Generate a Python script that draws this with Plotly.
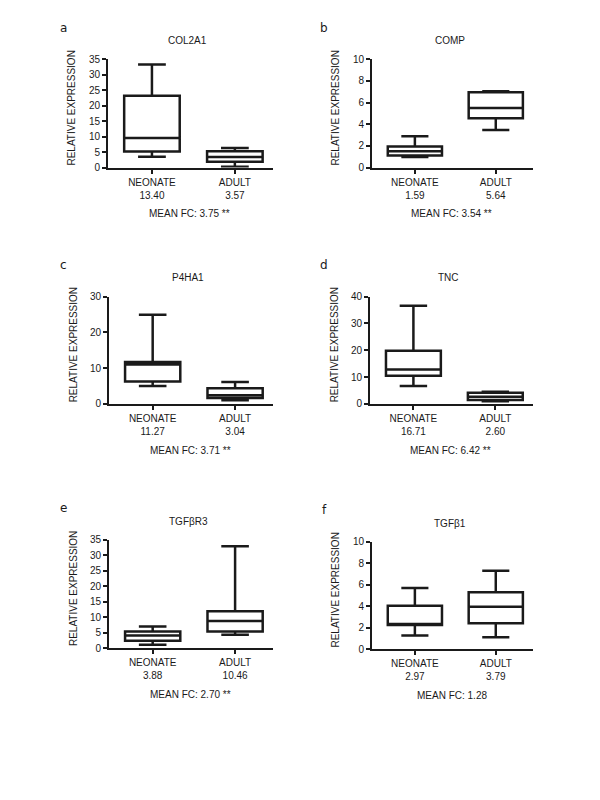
import plotly.graph_objects as go

genes = ["COL2A1", "COMP", "P4HA1", "TNC", "TGFβR3", "TGFβ1"]
letters = ["a", "b", "c", "d", "e", "f"]
categories = ["NEONATE", "ADULT"]

# [neonate, adult] box statistics
lower = [[3.5, 0.3], [0.97, 3.47], [5.0, 1.0], [6.7, 1.0], [1.1, 4.3], [1.28, 1.1]]
q1 = [[5.2, 1.9], [1.12, 4.56], [6.3, 1.65], [10.5, 1.5], [2.4, 5.4], [2.25, 2.4]]
median = [[9.6, 3.4], [1.5, 5.5], [11.0, 2.4], [12.8, 2.7], [4.1, 8.8], [2.3, 3.95]]
q3 = [[23.2, 5.3], [1.95, 6.96], [11.7, 4.4], [19.8, 4.2], [5.4, 11.9], [4.04, 5.3]]
upper = [[33.3, 6.3], [2.9, 7.05], [24.95, 6.1], [36.6, 4.5], [7.0, 32.9], [5.7, 7.3]]

means = [["13.40", "3.57"], ["1.59", "5.64"], ["11.27", "3.04"],
         ["16.71", "2.60"], ["3.88", "10.46"], ["2.97", "3.79"]]
mean_fc = ["MEAN FC: 3.75 **", "MEAN FC: 3.54 **", "MEAN FC: 3.71 **",
           "MEAN FC: 6.42 **", "MEAN FC: 2.70 **", "MEAN FC: 1.28"]

y_max = [35, 10, 30, 40, 35, 10]
y_step = [5, 2, 10, 10, 5, 2]

# layout in page pixels (x0, x1, ytop, ybottom)
boxes_px = [(108, 273, 54, 164), (372, 533, 54, 164),
            (109, 273, 295, 404), (370, 533, 295, 404),
            (109, 273, 542, 652), (372, 533, 544, 653)]
OFF = 8  # default body margin of the page
W, H = 600 - 2 * OFF, 800 - 2 * OFF
ink = "#1a1a1a"
font = "Liberation Sans, Arial, sans-serif"


def px(x):
    return (x - OFF) / W


def py(y):
    return 1 - (y - OFF) / H


fig = go.Figure()
annotations = []
for i in range(6):
    x0, x1, yt, yb = boxes_px[i]
    xa = "xaxis" if i == 0 else f"xaxis{i+1}"
    ya = "yaxis" if i == 0 else f"yaxis{i+1}"
    xr = "x" if i == 0 else f"x{i+1}"
    yr = "y" if i == 0 else f"y{i+1}"
    fig.add_trace(go.Box(
        x=[0, 1], q1=q1[i], median=median[i], q3=q3[i],
        lowerfence=lower[i], upperfence=upper[i],
        width=0.67, whiskerwidth=0.5, boxpoints=False,
        fillcolor="white", line=dict(color=ink, width=2.5),
        xaxis=xr, yaxis=yr, showlegend=False, hoverinfo="skip"))
    fig.layout[xa] = dict(
        domain=[px(x0), px(x1)], range=[-0.53, 1.46], anchor=yr,
        tickmode="array", tickvals=[0, 1],
        ticktext=[f"{categories[0]}<br>{means[i][0]}", f"{categories[1]}<br>{means[i][1]}"],
        showline=True, linecolor=ink, linewidth=2, ticks="outside", ticklen=4,
        tickwidth=2, tickcolor=ink, showgrid=False, zeroline=False,
        tickfont=dict(size=10, color=ink, family=font), fixedrange=True)
    fig.layout[ya] = dict(
        domain=[py(yb), py(yt)], range=[0, y_max[i]], anchor=xr,
        tickmode="linear", tick0=0, dtick=y_step[i],
        showline=True, linecolor=ink, linewidth=2, ticks="outside", ticklen=4,
        tickwidth=2, tickcolor=ink, showgrid=False, zeroline=False,
        tickfont=dict(size=10, color=ink, family=font), fixedrange=True)
    cx = (x0 + x1) / 2
    common = dict(xref="paper", yref="paper", showarrow=False,
                  xanchor="center", yanchor="middle")
    annotations.append(dict(text=genes[i], x=px(cx - 3), y=py(yt - 19),
                            font=dict(size=10, color=ink, family=font), **common))
    annotations.append(dict(text="RELATIVE EXPRESSION", x=px(x0 - 36),
                            y=py((yt + yb) / 2 - 5), textangle=-90,
                            font=dict(size=10, color=ink, family=font), **common))
    annotations.append(dict(text=mean_fc[i], x=px(cx - 1), y=py(yb + 47),
                            font=dict(size=10, color=ink, family=font), **common))
    lx = 63 if i % 2 == 0 else 324
    annotations.append(dict(text=letters[i], x=px(lx), y=py(yt - 32),
                            font=dict(size=12, color=ink, family="DejaVu Sans, sans-serif"),
                            **common))

fig.update_layout(width=W, height=H, margin=dict(l=0, r=0, t=0, b=0),
                  paper_bgcolor="white", plot_bgcolor="white",
                  annotations=annotations)
fig.write_html("out.html")
